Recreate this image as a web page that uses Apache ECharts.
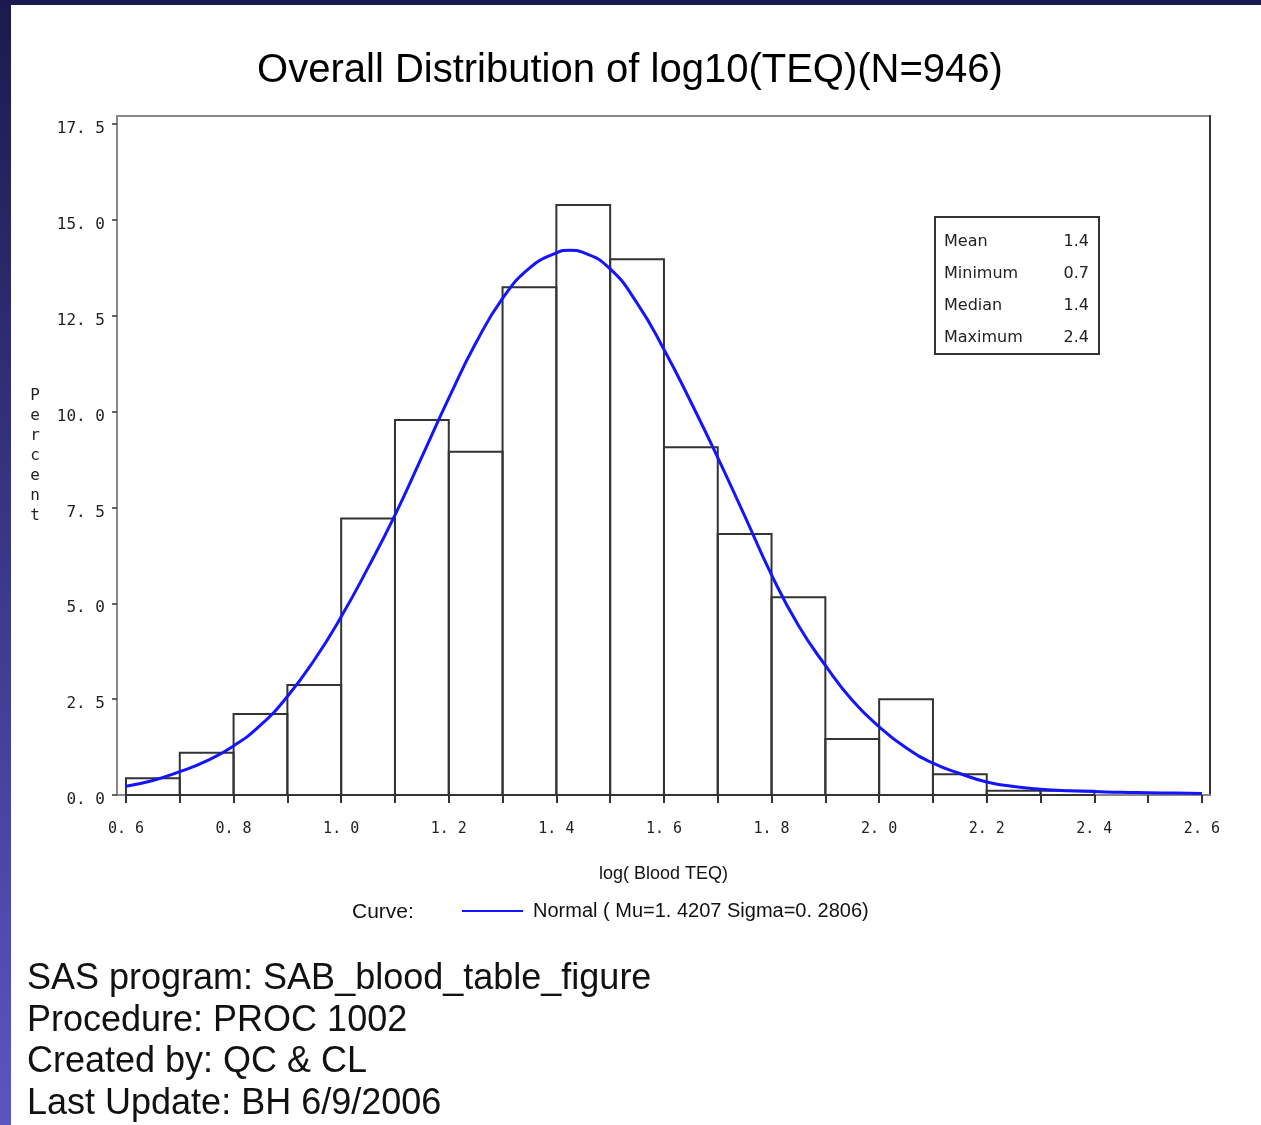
<!DOCTYPE html>
<html>
<head>
<meta charset="utf-8">
<script src="https://cdn.jsdelivr.net/npm/echarts@6/dist/echarts.min.js"></script>
<style>
html,body{margin:0;padding:0;background:#fff;}
#chart{width:1261px;height:1125px;}
</style>
</head>
<body>
<div id="chart"></div>
<script>
// ---- data ----
const binLow  = [0.6,0.7,0.8,0.9,1.0,1.1,1.2,1.3,1.4,1.5,1.6,1.7,1.8,1.9,2.0,2.1,2.2,2.3];
const binHigh = [0.7,0.8,0.9,1.0,1.1,1.2,1.3,1.4,1.5,1.6,1.7,1.8,1.9,2.0,2.1,2.2,2.3,2.4];
const percent = [0.44,1.10,2.11,2.87,7.21,9.78,8.95,13.24,15.39,13.97,9.07,6.81,5.16,1.46,2.50,0.54,0.11,0.11];

const curveX = [0.60,0.65,0.70,0.75,0.80,0.85,0.90,0.95,1.00,1.05,1.10,1.15,1.20,1.25,1.30,1.35,1.40,1.425,1.45,1.50,1.55,1.60,1.65,1.70,1.75,1.80,1.85,1.90,1.95,2.00,2.05,2.10,2.15,2.20,2.25,2.30,2.35,2.40,2.45,2.50,2.55,2.60];
const curveY = [0.23,0.38,0.61,0.89,1.28,1.82,2.57,3.52,4.65,5.93,7.30,8.82,10.35,11.78,12.95,13.74,14.14,14.21,14.15,13.72,12.83,11.62,10.25,8.80,7.28,5.74,4.42,3.38,2.47,1.78,1.23,0.83,0.56,0.34,0.22,0.15,0.11,0.09,0.07,0.06,0.05,0.04];

const xTickValues  = [0.6,0.7,0.8,0.9,1.0,1.1,1.2,1.3,1.4,1.5,1.6,1.7,1.8,1.9,2.0,2.1,2.2,2.3,2.4,2.5,2.6];
const xLabelValues = [0.6,0.8,1.0,1.2,1.4,1.6,1.8,2.0,2.2,2.4,2.6];
const yTickValues  = [0,2.5,5,7.5,10,12.5,15,17.5];

const statsLabels = ['Mean','Minimum','Median','Maximum'];
const statsValues = ['1.4','0.7','1.4','2.4'];

const titleText = 'Overall Distribution of log10(TEQ)(N=946)';
const xName = 'log( Blood TEQ)';
const yName = 'Percent';
const curveName = 'Normal ( Mu=1. 4207 Sigma=0. 2806)';
const notes = ['SAS program: SAB_blood_table_figure','Procedure: PROC 1002','Created by: QC & CL','Last Update: BH 6/9/2006'];

// ---- build ----
const fmt = v => v.toFixed(1).replace('.', '. ');
const barData = binLow.map((l, i) => [l, binHigh[i], percent[i]]);
const curveData = curveX.map((x, i) => [x, curveY[i]]);

const graphics = [
  {type:'rect', shape:{x:0,y:0,width:1261,height:5}, style:{fill:'#1b1a4e'}, z:0},
  {type:'rect', shape:{x:0,y:0,width:11,height:1125},
   style:{fill:new echarts.graphic.LinearGradient(0,0,0,1,[{offset:0,color:'#1b1a4e'},{offset:1,color:'#5b55c2'}])}, z:0},
  {type:'text', x:352, y:912, style:{text:'Curve:', font:'21px "Liberation Sans"', fill:'#111', textVerticalAlign:'middle'}},
  {type:'rect', shape:{x:935,y:217,width:164,height:137}, style:{fill:'#fff', stroke:'#333', lineWidth:2}, z:10}
];
statsLabels.forEach((s, i) => {
  graphics.push({type:'text', x:944, y:242 + i*32, z:11,
    style:{text:s, font:'16px "DejaVu Sans"', fill:'#222', textVerticalAlign:'middle'}});
  graphics.push({type:'text', x:1089, y:242 + i*32, z:11,
    style:{text:statsValues[i], font:'16px "DejaVu Sans"', fill:'#222', textAlign:'right', textVerticalAlign:'middle'}});
});
notes.forEach((t, i) => {
  graphics.push({type:'text', x:27, y:979 + i*41.7,
    style:{text:t, font:'36px "Liberation Sans"', fill:'#111', textVerticalAlign:'middle'}});
});

const chart = echarts.init(document.getElementById('chart'));
chart.setOption({
  backgroundColor:'#fff',
  animation:false,
  title:{text:titleText, left:625, top:66, textAlign:'center', textVerticalAlign:'middle',
    textStyle:{fontFamily:'Liberation Sans', fontSize:40, fontWeight:'normal', color:'#000'}},
  grid:{left:117, right:51, top:116, bottom:330, show:true, borderColor:'#888', borderWidth:2},
  legend:{left:462, top:901, padding:0, icon:'rect', itemWidth:61, itemHeight:2,
    data:[curveName], textStyle:{fontFamily:'Liberation Sans', fontSize:20, color:'#111', padding:[0,0,0,5]}},
  xAxis:{type:'value', min:0.5833, max:2.615,
    name:xName, nameLocation:'middle', nameGap:70,
    nameTextStyle:{fontFamily:'Liberation Sans', fontSize:18, color:'#111'},
    axisLine:{show:true, onZero:false, lineStyle:{color:'#888', width:2}},
    axisTick:{show:true, customValues:xTickValues, length:8, lineStyle:{color:'#333', width:2}},
    axisLabel:{customValues:xLabelValues, formatter:v => fmt(v), margin:27,
      fontFamily:'DejaVu Sans Mono', fontSize:15, color:'#222'},
    splitLine:{show:false}},
  yAxis:[{type:'value', min:0, max:17.709,
    name:yName.split('').join('\n'), nameLocation:'middle', nameRotate:0, nameGap:77,
    nameTextStyle:{fontFamily:'DejaVu Sans Mono', fontSize:16, lineHeight:20, color:'#222'},
    axisLine:{show:true, lineStyle:{color:'#888', width:2}},
    axisTick:{show:true, customValues:yTickValues, length:5, lineStyle:{color:'#333', width:1.5}},
    axisLabel:{customValues:yTickValues, formatter:v => fmt(v), margin:12, verticalAlign:'top', lineHeight:10,
      fontFamily:'DejaVu Sans Mono', fontSize:16, color:'#222'},
    splitLine:{show:false}},
   {type:'value', min:0, max:17.709, position:'right',
    axisLine:{show:true, lineStyle:{color:'#333', width:2}}, axisTick:{show:false}, axisLabel:{show:false}, splitLine:{show:false}}],
  series:[
    {type:'custom', name:'bars', data:barData, z:2,
     renderItem:(params, api) => {
       const p0 = api.coord([api.value(0), api.value(2)]);
       const p1 = api.coord([api.value(1), 0]);
       return {type:'rect', shape:{x:p0[0], y:p0[1], width:p1[0]-p0[0], height:p1[1]-p0[1]},
         style:{fill:'none', stroke:'#333', lineWidth:2}};
     }},
    {type:'line', name:curveName, data:curveData, smooth:true, showSymbol:false, z:3,
     lineStyle:{color:'#1414ff', width:3}, itemStyle:{color:'#1414ff'}}
  ],
  graphic:graphics
});
</script>
</body>
</html>
